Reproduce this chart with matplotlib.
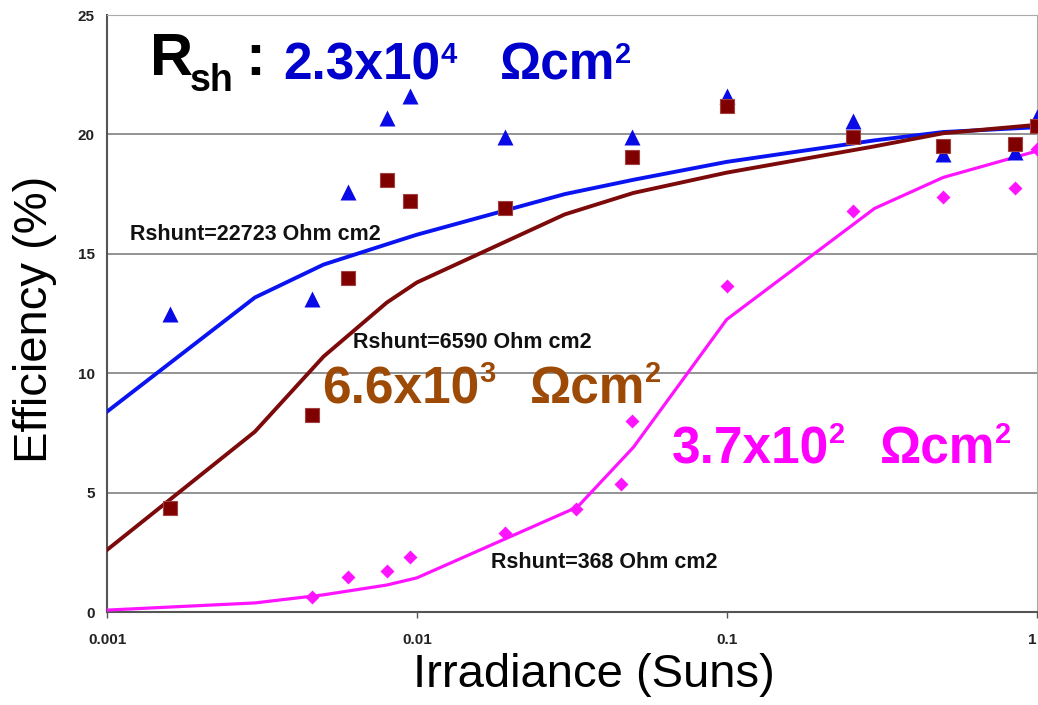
import numpy as np
import matplotlib
matplotlib.use('Agg')
import matplotlib.pyplot as plt

plt.rcParams['font.family'] = ['Liberation Sans', 'DejaVu Sans']

# measured points (irradiance in suns, efficiency in %)
irr_meas = [0.0016, 0.0046, 0.006, 0.008, 0.0095, 0.0193, 0.0496, 0.1, 0.255, 0.5, 0.855, 1.0]
eff_high = [12.5, 13.1, 17.6, 20.7, 21.6, 19.9, 19.9, 21.6, 20.55, 19.2, 19.25, 20.75]
eff_mid = [4.36, 8.26, 14.0, 18.1, 17.2, 16.9, 19.04, 21.2, 19.9, 19.5, 19.6, 20.35]

irr_low = [0.0046, 0.006, 0.008, 0.0095, 0.0193, 0.0327, 0.0457, 0.0496, 0.1, 0.255, 0.5, 0.855, 1.0]
eff_low = [0.63, 1.47, 1.72, 2.3, 3.3, 4.33, 5.37, 8.0, 13.67, 16.78, 17.37, 17.75, 19.4]

# simulated curves
irr_model = [0.001, 0.003, 0.005, 0.008, 0.01, 0.03, 0.05, 0.1, 0.3, 0.5, 1.0]
model_high = [8.39, 13.17, 14.55, 15.4, 15.8, 17.5, 18.1, 18.85, 19.75, 20.1, 20.3]
model_mid = [2.6, 7.55, 10.7, 12.96, 13.8, 16.65, 17.55, 18.4, 19.5, 20.05, 20.4]
irr_model_low = [0.001, 0.003, 0.005, 0.008, 0.01, 0.033, 0.05, 0.1, 0.3, 0.5, 1.0]
model_low = [0.08, 0.38, 0.72, 1.13, 1.43, 4.4, 6.9, 12.25, 16.9, 18.2, 19.3]

y_ticks = [0, 5, 10, 15, 20, 25]
x_ticks = [0.001, 0.01, 0.1, 1]
x_ticklabels = ['0.001', '0.01', '0.1', '1']

rsh_labels = ['Rshunt=22723 Ohm cm2', 'Rshunt=6590 Ohm cm2', 'Rshunt=368 Ohm cm2']
rsh_values = [('2.3x10', '4'), ('6.6x10', '3'), ('3.7x10', '2')]


def px(x, y):
    # pixel position (from top-left) -> figure fraction
    return x / 1038, 1 - y / 705


def after(txt, gap):
    # x pixel just right of a drawn text
    bb = txt.get_window_extent(renderer=renderer)
    return bb.x1 + gap


def big_label(x0, base, sup_base, unit_x, mant, exp, color):
    t1 = fig.text(*px(x0, base), mant, fontsize=37, fontweight='bold', color=color, va='baseline')
    fig.text(*px(after(t1, 0), sup_base), exp, fontsize=21, fontweight='bold',
             color=color, va='baseline')
    t3 = fig.text(*px(unit_x, base), 'Ωcm', fontsize=37, fontweight='bold', color=color, va='baseline')
    fig.text(*px(after(t3, 0), sup_base), '2', fontsize=21, fontweight='bold',
             color=color, va='baseline')


fig = plt.figure(figsize=(10.38, 7.05), dpi=100)
renderer = fig.canvas.get_renderer()
ax = fig.add_axes([0.1031, 0.1319, 0.8955, 0.8468])

ax.set_xscale('log')
ax.set_xlim(0.001, 1)
ax.set_ylim(0, 25)

for y in y_ticks[1:]:
    ax.axhline(y, color='#8a8a8a', lw=1.3, zorder=1)

ax.plot(irr_model, model_high, color='#0a14f0', lw=2.8, zorder=3)
ax.plot(irr_model, model_mid, color='#7d0a0a', lw=2.8, zorder=3)
ax.plot(irr_model_low, model_low, color='#ff14ff', lw=2.3, zorder=3)

ax.plot(irr_meas, eff_high, '^', color='#0a0ae6', ms=11, mec='none', zorder=4)
ax.plot(irr_meas, eff_mid, 's', color='#800000', ms=10, mec='#a04040', mew=0.8, zorder=5)
ax.plot(irr_low, eff_low, 'D', color='#ff14ff', ms=7.5, mec='none', zorder=6)

ax.set_xticks(x_ticks)
ax.set_xticklabels(x_ticklabels)
ax.xaxis.set_minor_locator(matplotlib.ticker.NullLocator())
ax.set_yticks(y_ticks)
ax.tick_params(axis='x', length=4, width=1, color='#555555', pad=11, labelsize=11)
ax.tick_params(axis='y', length=0, pad=9, labelsize=11)
for lab in ax.get_xticklabels() + ax.get_yticklabels():
    lab.set_fontweight('bold')
    lab.set_color('#222222')
ax.get_xticklabels()[-1].set_ha('right')

ax.spines['left'].set_color('#555555')
ax.spines['left'].set_linewidth(1.5)
ax.spines['bottom'].set_color('#555555')
ax.spines['bottom'].set_linewidth(1.5)
ax.spines['top'].set_color('#aaaaaa')
ax.spines['right'].set_color('#aaaaaa')

ax.set_xlabel('Irradiance (Suns)', fontsize=34)
ax.xaxis.set_label_coords(0.524, -0.1256)
ax.xaxis.label.set_va('baseline')
ax.set_ylabel('Efficiency (%)', fontsize=34)
ax.yaxis.set_label_coords(-0.0774, 0.49)
ax.yaxis.label.set_va('center')

# simulation labels
ax.text(0.00119, 15.8, rsh_labels[0], fontsize=15.5, fontweight='bold',
        va='center', ha='left', color='#111111')
ax.text(0.00621, 11.28, rsh_labels[1], fontsize=15.5, fontweight='bold',
        va='center', ha='left', color='#111111')
ax.text(0.0174, 2.06, rsh_labels[2], fontsize=15.5, fontweight='bold',
        va='center', ha='left', color='#111111')

# big overlay labels
fig.text(*px(150, 75), 'R', fontsize=43, fontweight='bold', va='baseline')
fig.text(*px(190, 91), 'sh', fontsize=27, fontweight='bold', va='baseline')
fig.text(*px(245, 75), ':', fontsize=43, fontweight='bold', va='baseline')

big_label(283, 80, 63, 500, rsh_values[0][0], rsh_values[0][1], '#0000cc')
big_label(322, 403, 382, 530, rsh_values[1][0], rsh_values[1][1], '#9c4a06')
big_label(672, 463, 443, 880, rsh_values[2][0], rsh_values[2][1], '#ff00ff')

fig.savefig('out.png', dpi=100)
